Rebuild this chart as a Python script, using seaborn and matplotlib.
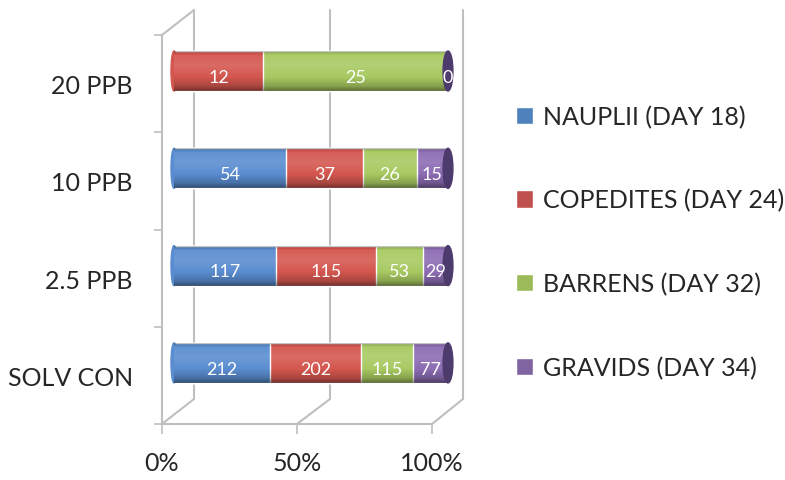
import matplotlib.pyplot as plt
import numpy as np
import pandas as pd
import seaborn as sns
from matplotlib.lines import Line2D
from matplotlib.patches import Ellipse, Patch

# data
categories = ["20 PPB", "10 PPB", "2.5 PPB", "SOLV CON"]
series = ["NAUPLII (DAY 18)", "COPEDITES (DAY 24)", "BARRENS (DAY 32)", "GRAVIDS (DAY 34)"]
nauplii = [0, 54, 117, 212]
copedites = [12, 37, 115, 202]
barrens = [25, 26, 53, 115]
gravids = [0, 15, 29, 77]
x_ticks = [0, 50, 100]
x_tick_labels = ["0%", "50%", "100%"]

colors = ["#4F81BD", "#C0504D", "#9BBB59", "#8064A2"]
bar_colors = ["#5A8DD0", "#D4574F", "#A8CA62", "#8C6CB3"]
cap_color = "#4E3B6E"
wall_color = "#BFBFBF"

sns.set_style("white")
plt.rcParams["font.family"] = ["Lato", "DejaVu Sans"]

W, H = 785, 481


def fx(px):
    return px / W


def fy(py):
    return 1 - py / H


df = pd.DataFrame(dict(zip(series, [nauplii, copedites, barrens, gravids])), index=categories)
pct = df.div(df.sum(axis=1), axis=0) * 100
cum = pct.cumsum(axis=1)

fig = plt.figure(figsize=(W / 100, H / 100), dpi=100)

# back wall + floor lines of the 3D frame (pixel geometry)
wall = [
    [(194, 11), (194, 400)], [(330, 11), (330, 400)], [(463, 11), (463, 400)],
    [(162, 36), (194, 11)],
    [(162, 425), (194, 400)], [(297, 425), (330, 400)], [(432, 425), (463, 400)],
]
for (x0, y0), (x1, y1) in wall:
    fig.add_artist(Line2D([fx(x0), fx(x1)], [fy(y0), fy(y1)], color=wall_color,
                          lw=1.5, zorder=-1, transform=fig.transFigure))

# front plane axes: category labels, percent ticks
axf = fig.add_axes([fx(162), fy(425), (432 - 162) / W, (425 - 36) / H])
axf.patch.set_visible(False)
axf.set_xlim(0, 100)
axf.set_ylim(len(categories) - 0.5, -0.5)
for s in ["top", "right"]:
    axf.spines[s].set_visible(False)
for s in ["left", "bottom"]:
    axf.spines[s].set_color(wall_color)
    axf.spines[s].set_linewidth(1.5)
axf.set_xticks(x_ticks)
axf.set_xticklabels(x_tick_labels, fontsize=18)
axf.tick_params(axis="x", direction="out", length=7.5, width=1.2, color=wall_color, pad=12, bottom=True)
axf.set_yticks(np.arange(len(categories) + 1) - 0.5)
axf.set_yticklabels([])
axf.set_yticks(np.arange(len(categories)), minor=True)
axf.set_yticklabels(categories, minor=True, fontsize=18)
axf.tick_params(axis="y", which="major", direction="out", length=6, width=1.2, color=wall_color, left=True)
axf.tick_params(axis="y", which="minor", length=0, pad=21)

# bar axes (middle depth)
ax = fig.add_axes([fx(174), fy(425), (448 - 174) / W, (425 - 11) / H])
ax.patch.set_visible(False)
bar_w = 40 / 97.3
for col, c in reversed(list(zip(series, bar_colors))):
    sns.barplot(x=cum[col].values, y=categories, orient="h", color=c, saturation=1,
                width=bar_w, errorbar=None, ax=ax)

# cylinder shading
t = np.linspace(0, 1, 64)
shade = np.interp(t, [0, 0.1, 0.35, 0.65, 0.88, 1], [-0.25, 0.05, 0.12, 0.0, -0.2, -0.45])
grad = np.zeros((len(t), 2, 4))
grad[:, :, :3] = np.where(shade[:, None, None] > 0, 1.0, 0.0)
grad[:, :, 3] = np.abs(shade)[:, None]
for i, cat in enumerate(categories):
    full = ax.patches[i]
    im = ax.imshow(grad, extent=(0, 100, i + bar_w / 2, i - bar_w / 2), aspect="auto",
                   zorder=3, interpolation="bilinear")
    im.set_clip_path(full)
    first = next(k for k, col in enumerate(series) if df.loc[cat, col] > 0)
    ax.add_patch(Ellipse((0, i), 2.2, bar_w, color=bar_colors[first], zorder=2, clip_on=False))
    ax.add_patch(Ellipse((100, i), 3.6, bar_w, color=cap_color, zorder=4, clip_on=False))

# data labels
for i, cat in enumerate(categories):
    prev = 0
    for col in series:
        v = df.loc[cat, col]
        c = cum.loc[cat, col]
        if v > 0 or col == series[-1]:
            ax.text((prev + c) / 2, i + 0.06, str(v), color="white", fontsize=13,
                    ha="center", va="center", zorder=5)
        prev = c

ax.set_xlim(0, 100)
ax.set_ylim(3.628, -0.627)
ax.axis("off")

handles = [Patch(facecolor=c) for c in colors]
fig.legend(handles, series, loc="center left", bbox_to_anchor=(fx(516), fy(243)),
           frameon=False, fontsize=18, handlelength=0.68, handleheight=0.68,
           handletextpad=0.4, labelspacing=2.42, borderpad=0, borderaxespad=0)

fig.savefig("out.png", dpi=100)
